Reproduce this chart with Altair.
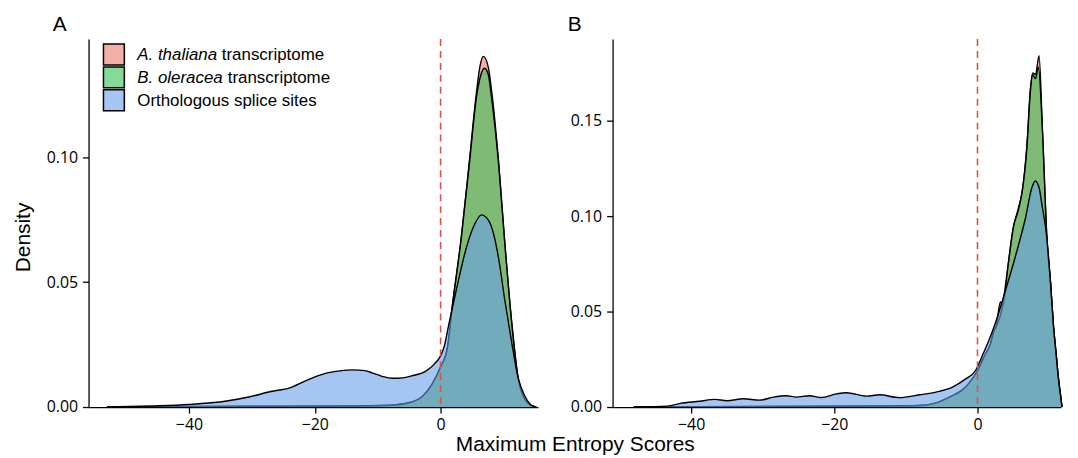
import altair as alt
import pandas as pd

# ---------------- data ----------------
# Panel A
A_THAL_X = [-53, -30, -15, -7.7, -4.6, -3, -1.4, 0, 1.1, 1.8, 3.3, 4.6, 5.7, 6.3, 6.8, 7.6, 8.1, 9.2, 10.2, 11.3, 12.3, 13.4, 14.4, 15.2]
A_THAL_D = [0, 0.0003, 0.0004, 0.0007, 0.002, 0.004, 0.009, 0.016, 0.024, 0.039, 0.068, 0.099, 0.126, 0.137, 0.1405, 0.136, 0.127, 0.099, 0.066, 0.034, 0.012, 0.003, 0.0006, 0]
A_OLER_X = [-53, -30, -15, -7.7, -4.6, -3, -1.4, 0, 1.1, 1.8, 3.3, 4.6, 5.7, 6.4, 7.0, 7.6, 8.1, 9.2, 10.2, 11.3, 12.3, 13.4, 14.4, 15.2]
A_OLER_D = [0, 0.0003, 0.0004, 0.0007, 0.002, 0.004, 0.009, 0.016, 0.024, 0.039, 0.068, 0.098, 0.124, 0.133, 0.1357, 0.133, 0.124, 0.098, 0.066, 0.034, 0.012, 0.003, 0.0006, 0]
A_ORTH_X = [-53, -46, -40, -34, -30.5, -27, -24, -21.5, -18.3, -16, -14, -12, -10.9, -9.3, -7.7, -6, -4.6, -2.4, -1, 0, 0.6, 1.3, 2.6, 3.9, 5.2, 6.5, 7.8, 9.2, 10.2, 11.3, 12.3, 13.4, 14.4, 15.2]
A_ORTH_D = [0, 0.0004, 0.001, 0.0024, 0.004, 0.0062, 0.0077, 0.0105, 0.0135, 0.0145, 0.0149, 0.0146, 0.0137, 0.0123, 0.0115, 0.0117, 0.0125, 0.0143, 0.0172, 0.0205, 0.0245, 0.033, 0.048, 0.062, 0.072, 0.077, 0.074, 0.060, 0.043, 0.026, 0.012, 0.0044, 0.0008, 0]

# Panel B
B_THAL_X = [-48, -30, -15, -8.1, -5.8, -3.5, -2.2, -1.3, 0, 1.0, 1.8, 2.3, 2.6, 3.2, 3.6, 4.3, 5.0, 5.7, 6.3, 6.9, 7.4, 7.7, 8.1, 8.6, 9.07, 9.7, 10.2, 10.6, 11.0, 11.3, 11.6, 11.8]
B_THAL_D = [0, 0.0003, 0.0005, 0.0008, 0.0022, 0.006, 0.0087, 0.012, 0.019, 0.027, 0.033, 0.040, 0.042, 0.055, 0.053, 0.075, 0.094, 0.104, 0.114, 0.137, 0.167, 0.175, 0.174, 0.184, 0.145, 0.088, 0.065, 0.043, 0.027, 0.015, 0.006, 0]
B_OLER_X = [-48, -30, -15, -8.1, -5.8, -3.5, -2.2, -1.3, 0, 1.0, 1.8, 2.3, 2.6, 3.4, 4.3, 5.0, 5.7, 6.2, 6.9, 7.4, 7.7, 8.1, 8.5, 9.07, 9.7, 10.2, 10.6, 11.0, 11.3, 11.6, 11.8]
B_OLER_D = [0, 0.0003, 0.0005, 0.0008, 0.0022, 0.006, 0.0087, 0.012, 0.019, 0.027, 0.033, 0.040, 0.042, 0.051, 0.075, 0.094, 0.103, 0.112, 0.136, 0.166, 0.174, 0.172, 0.178, 0.145, 0.088, 0.065, 0.043, 0.027, 0.015, 0.006, 0]
B_ORTH_X = [-48, -43.3, -41.5, -38.8, -36.7, -35, -32.7, -30.4, -28.5, -26.7, -25.3, -23.5, -21.8, -19.7, -18.3, -15.5, -13.7, -10.9, -8.1, -5.8, -3.5, -1.7, -0.3, 0.8, 1.6, 2.5, 3.9, 5.3, 6.7, 7.6, 8.06, 8.6, 9.0, 9.7, 10.2, 10.6, 11.0, 11.3, 11.6, 11.8]
B_ORTH_D = [0, 0.0005, 0.0019, 0.003, 0.004, 0.0033, 0.0043, 0.0036, 0.0052, 0.0059, 0.0052, 0.0059, 0.005, 0.0069, 0.0075, 0.0057, 0.0064, 0.0049, 0.0064, 0.0078, 0.0104, 0.0146, 0.019, 0.028, 0.035, 0.044, 0.061, 0.079, 0.099, 0.115, 0.1184, 0.115, 0.106, 0.088, 0.065, 0.043, 0.027, 0.015, 0.006, 0]

SERIES = ["thaliana", "oleracea", "ortho"]
LEGEND_ITALIC = ["A. thaliana", "B. oleracea", ""]
LEGEND_REST = ["transcriptome", "transcriptome", "Orthologous splice sites"]
X_TICKS = [-40, -20, 0]
A_Y_TICKS = [0.0, 0.05, 0.10]
B_Y_TICKS = [0.0, 0.05, 0.10, 0.15]

# ---------------- styling ----------------
FILL = {"thaliana": "#ED7B6E", "oleracea": "#32C355", "ortho": "#69A0EB"}
FILL_OPACITY = 0.6
TICK_FONT = "Open Sans"
TEXT_FONT = "Liberation Sans"


def build_df(xs, ds, panel, series):
    return pd.DataFrame({"x": xs, "d": ds, "panel": panel, "series": series})


df = pd.concat([
    build_df(A_THAL_X, A_THAL_D, "A", "thaliana"),
    build_df(A_OLER_X, A_OLER_D, "A", "oleracea"),
    build_df(A_ORTH_X, A_ORTH_D, "A", "ortho"),
    build_df(B_THAL_X, B_THAL_D, "B", "thaliana"),
    build_df(B_OLER_X, B_OLER_D, "B", "oleracea"),
    build_df(B_ORTH_X, B_ORTH_D, "B", "ortho"),
], ignore_index=True)

zero_df = pd.DataFrame({"x": [0]})
one_row = pd.DataFrame({"k": [0]})


def panel(name, xdom, ydom, yticks, width, with_ytitle, with_xtitle, with_legend, title_dx):
    xaxis_kw = dict(values=X_TICKS, labelFontSize=16, labelFont=TICK_FONT, tickSize=6,
                    labelPadding=4)
    if with_xtitle:
        xaxis_kw.update(title="Maximum Entropy Scores", titleX=489, titleY=44,
                        titleBaseline="alphabetic", titleAlign="center")
    else:
        xaxis_kw.update(title=None)
    yaxis_kw = dict(values=yticks, format=".2f", labelFontSize=16, labelFont=TICK_FONT,
                    tickSize=6, labelPadding=5)
    if with_ytitle:
        yaxis_kw.update(title="Density", titleX=-59, titleY=199, titleBaseline="alphabetic",
                        titleAlign="center", titleAngle=270)
    else:
        yaxis_kw.update(title=None)

    x_enc = alt.X("x:Q", scale=alt.Scale(domain=xdom, nice=False, zero=False),
                  axis=alt.Axis(**xaxis_kw))
    y_enc = alt.Y("d:Q", scale=alt.Scale(domain=ydom, nice=False, zero=False),
                  axis=alt.Axis(**yaxis_kw))

    base = alt.Chart(df).transform_filter(alt.datum.panel == name)
    layers = []
    for s in SERIES:
        sub = base.transform_filter(alt.datum.series == s)
        layers.append(sub.mark_area(fill=FILL[s], fillOpacity=FILL_OPACITY,
                                    interpolate="monotone").encode(x=x_enc, y=y_enc))
        layers.append(sub.mark_line(color="black", strokeWidth=1.4,
                                    interpolate="monotone").encode(x=x_enc, y=y_enc))
    layers.append(alt.Chart(zero_df).mark_rule(color="#E0533D", strokeWidth=1.6,
                                               strokeDash=[7, 5]).encode(x="x:Q"))

    if with_legend:
        rest_x = [134, 140, 49]
        for i, s in enumerate(SERIES):
            top = 5 + 23 * i
            layers.append(alt.Chart(one_row).mark_rect(
                fill=FILL[s], fillOpacity=FILL_OPACITY, stroke="black", strokeWidth=1.5
            ).encode(x=alt.value(15), x2=alt.value(36), y=alt.value(top), y2=alt.value(top + 21)))
            if LEGEND_ITALIC[i]:
                layers.append(alt.Chart(one_row).mark_text(
                    align="left", baseline="middle", font=TEXT_FONT, fontSize=17,
                    fontStyle="italic", color="black"
                ).encode(x=alt.value(49), y=alt.value(top + 11.5), text=alt.value(LEGEND_ITALIC[i])))
            layers.append(alt.Chart(one_row).mark_text(
                align="left", baseline="middle", font=TEXT_FONT, fontSize=17, color="black"
            ).encode(x=alt.value(rest_x[i]), y=alt.value(top + 11.5), text=alt.value(LEGEND_REST[i])))

    return alt.layer(*layers).properties(
        width=width, height=370,
        title=alt.TitleParams(name, anchor="start", frame="group", dx=title_dx, offset=3,
                              font=TEXT_FONT, fontSize=21, fontWeight="normal", color="black"),
    )


pA = panel("A", [-55.97, 15.49], [0, 0.1474], A_Y_TICKS, 452, True, True, True, -36)
pB = panel("B", [-50.97, 11.67], [0, 0.1927], B_Y_TICKS, 451, False, False, False, -45)

chart = alt.hconcat(
    pA, pB, spacing=75, bounds="flush",
    padding={"top": 5, "left": 5, "right": 5, "bottom": 5},
).configure_view(
    stroke=None
).configure_axis(
    grid=False, domainColor="black", tickColor="black", labelColor="black",
    domainWidth=1.3, tickWidth=1.3, titleColor="black", titleFont=TEXT_FONT,
    titleFontSize=21, titleFontWeight="normal"
)

chart.save("out.html", embed_options={"renderer": "svg", "actions": False})
